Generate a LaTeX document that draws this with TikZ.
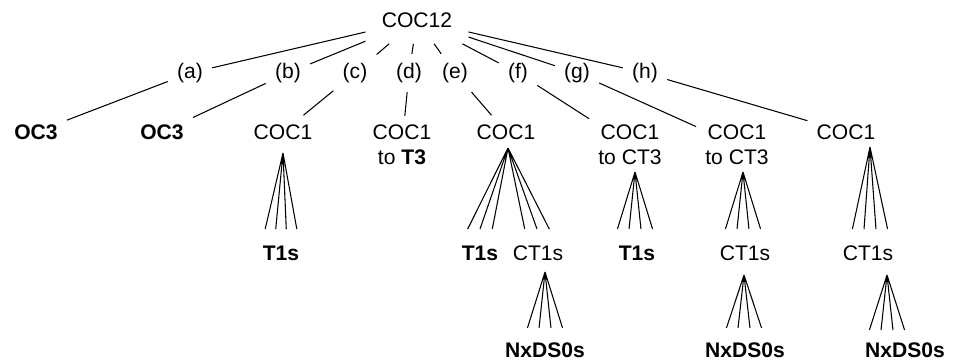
\documentclass[tikz,border=0pt]{standalone}
\usepackage{fontspec}
\setmainfont{Liberation Sans}
\usetikzlibrary{positioning}
\tikzset{
  % text of every node in the tree
  treetext/.style={font=\fontsize{12}{14}\selectfont},
  root/.style={treetext, inner sep=9pt},
  branch/.style={treetext, inner sep=5pt},
  chan/.style={treetext, inner sep=5pt, align=center},
  leaf/.style={treetext, inner sep=3pt}}

\begin{document}
\begin{tikzpicture}[x=0.02cm, y=-0.02cm, line width=0.6pt]
\useasboundingbox (0,0) rectangle (958,362);

\draw (417,20) node (coc12) [root] {COC12};

\draw (190,73) node (la) [branch] {(a)};
\draw (288,73) node (lb) [branch] {(b)};
\draw (355,73) node (lc) [branch] {(c)};
\draw (409,73) node (ld) [branch] {(d)};
\draw (455,73) node (le) [branch] {(e)};
\draw (518,73) node (lf) [branch] {(f)};
\draw (577,73) node (lg) [branch] {(g)};
\draw (645,73) node (lh) [branch] {(h)};

\draw (36,132) node (oc3a) [chan] {\textbf{OC3}};
\draw (162,132) node (oc3b) [chan] {\textbf{OC3}};
\draw (283,132) node (cocc) [chan] {COC1};
\draw (402,145) node (cocd) [chan] {COC1\\to \textbf{T3}};
\draw (506,132) node (coce) [chan] {COC1};
\draw (630,145) node (cocf) [chan] {COC1\\to CT3};
\draw (737,145) node (cocg) [chan] {COC1\\to CT3};
\draw (846,132) node (coch) [chan] {COC1};

\draw (281,253) node (t1c) [leaf] {\textbf{T1s}};
\draw (480,253) node (t1e) [leaf] {\textbf{T1s}};
\draw (538,253) node (ct1e) [leaf] {CT1s};
\draw (637,253) node (t1f) [leaf] {\textbf{T1s}};
\draw (745,253) node (ct1g) [leaf] {CT1s};
\draw (868,253) node (ct1h) [leaf] {CT1s};

\draw (545,350) node (nxe) [leaf] {\textbf{NxDS0s}};
\draw (745,350) node (nxg) [leaf] {\textbf{NxDS0s}};
\draw (905,350) node (nxh) [leaf] {\textbf{NxDS0s}};

% first level
\draw (coc12) -- (la);
\draw (coc12) -- (lb);
\draw (coc12) -- (lc);
\draw (coc12) -- (ld);
\draw (coc12) -- (le);
\draw (coc12) -- (lf);
\draw (coc12) -- (lg);
\draw (coc12) -- (lh);

\draw (la) -- (oc3a);
\draw (lb) -- (oc3b);
\draw (lc) -- (cocc);
\draw (ld) -- (cocd);
\draw (le) -- (coce);
\draw (lf) -- (cocf);
\draw (lg) -- (cocg);
\draw (lh) -- (coch);

% fans of channels
\path (cocc.center) -- +(0,21) coordinate(topc);
\path (t1c.center) -- +(0,-24) coordinate(botc);
\draw (topc) -- ([xshift=-9pt]botc) (topc) -- ([xshift=-3pt]botc)
      (topc) -- ([xshift=3pt]botc) (topc) -- ([xshift=9pt]botc);

\path (coce.center) -- +(2,16) coordinate(tope);
\path (t1e.center) -- +(0,-24) coordinate(bote);
\path (ct1e.center) -- +(-1,-24) coordinate(botce);
\draw (tope) -- ([xshift=-7pt]bote) (tope) -- (bote) (tope) -- ([xshift=7pt]bote);
\draw (tope) -- ([xshift=-7pt]botce) (tope) -- (botce) (tope) -- ([xshift=7pt]botce);

\path (ct1e.center) -- +(7,19) coordinate(topce);
\path (nxe.center) -- +(0,-22) coordinate(botne);
\draw (topce) -- ([xshift=-10pt]botne) (topce) -- ([xshift=-3.4pt]botne)
      (topce) -- ([xshift=3.4pt]botne) (topce) -- ([xshift=10pt]botne);

\path (cocf.center) -- +(5,27) coordinate(topf);
\path (t1f.center) -- +(-2,-24) coordinate(botf);
\draw (topf) -- ([xshift=-10pt]botf) (topf) -- ([xshift=-3.4pt]botf)
      (topf) -- ([xshift=3.4pt]botf) (topf) -- ([xshift=10pt]botf);

\path (cocg.center) -- +(6,27) coordinate(topg);
\path (ct1g.center) -- +(-2,-24) coordinate(botg);
\draw (topg) -- ([xshift=-10pt]botg) (topg) -- ([xshift=-3.4pt]botg)
      (topg) -- ([xshift=3.4pt]botg) (topg) -- ([xshift=10pt]botg);

\path (ct1g.center) -- +(-1,22) coordinate(topcg);
\path (nxg.center) -- +(-1,-22) coordinate(botng);
\draw (topcg) -- ([xshift=-10pt]botng) (topcg) -- ([xshift=-3.4pt]botng)
      (topcg) -- ([xshift=3.4pt]botng) (topcg) -- ([xshift=10pt]botng);

\path (coch.center) -- +(24,15) coordinate(toph);
\path (ct1h.center) -- +(2,-24) coordinate(both);
\draw (toph) -- ([xshift=-10pt]both) (toph) -- ([xshift=-3.4pt]both)
      (toph) -- ([xshift=3.4pt]both) (toph) -- ([xshift=10pt]both);

\path (ct1h.center) -- +(19,22) coordinate(topch);
\path (nxh.center) -- +(-18,-20) coordinate(botnh);
\draw (topch) -- ([xshift=-10pt]botnh) (topch) -- ([xshift=-3.4pt]botnh)
      (topch) -- ([xshift=3.4pt]botnh) (topch) -- ([xshift=10pt]botnh);

\end{tikzpicture}
\end{document}
